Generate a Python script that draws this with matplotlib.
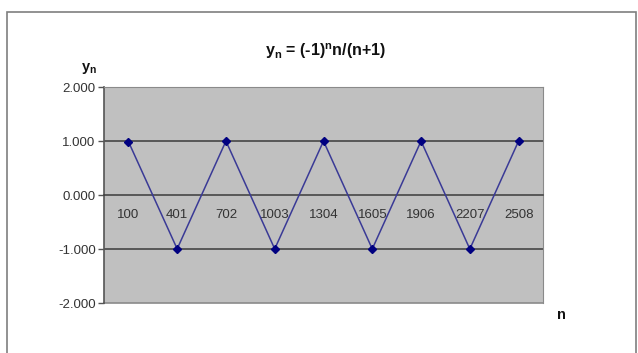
import matplotlib
matplotlib.use("Agg")
import matplotlib.pyplot as plt
from matplotlib.patches import Rectangle

categories = ["100", "401", "702", "1003", "1304", "1605", "1906", "2207", "2508"]
values = [0.990, -0.998, 0.999, -0.999, 0.999, -0.999, 0.999, -1.000, 1.000]
yticks = [-2.0, -1.0, 0.0, 1.0, 2.0]

plt.rcParams['font.family'] = ['Liberation Sans', 'DejaVu Sans']

W, H = 638, 353
fig = plt.figure(figsize=(W / 100, H / 100), dpi=100)
fig.patch.set_facecolor('white')

# outer chart frame
fig.add_artist(Rectangle((7 / W, -0.05), (636 - 7) / W, 1.05 - 12 / H,
                         transform=fig.transFigure, fill=False,
                         edgecolor='#7f7f7f', linewidth=1.2))

left, right, top, bottom = 104, 543, 87, 303
ax = fig.add_axes([left / W, 1 - bottom / H, (right - left) / W, (bottom - top) / H])
ax.set_facecolor('#c0c0c0')

x = list(range(len(categories)))
ax.plot(x, values, color='#3a3a96', linewidth=1.1, marker='D', markersize=4.5,
        markerfacecolor='#000080', markeredgecolor='#000080', zorder=3)

ax.set_xlim(-0.5, len(categories) - 0.5)
ax.set_ylim(-2, 2)
ax.set_yticks(yticks)
ax.set_yticklabels([f"{v:.3f}" for v in yticks], fontsize=9.5, color='#333333')
ax.tick_params(axis='y', length=4, width=1, color='#555555', pad=2)

for v in [-1.0, 1.0]:
    ax.axhline(v, color='#3c3c3c', linewidth=1.1, zorder=1)

ax.spines['bottom'].set_position(('data', 0))
ax.spines['bottom'].set_color('#3c3c3c')
ax.spines['bottom'].set_linewidth(1.1)
ax.set_xticks(x)
ax.set_xticklabels(categories, fontsize=9.5, color='#333333')
ax.tick_params(axis='x', length=0, pad=10)
ax.axhline(-2, color='#8a8a8a', linewidth=1.2, zorder=1, clip_on=False)

ax.spines['left'].set_color('#555555')
ax.spines['left'].set_linewidth(1.2)
ax.spines['top'].set_color('#8a8a8a')
ax.spines['right'].set_color('#8a8a8a')

fig.text(325 / W, 1 - 51 / H, r"y$_\mathregular{n}$ = (-1)$^\mathregular{n}$n/(n+1)",
         ha='center', va='center', fontsize=11.5, fontweight='bold', color='#111111')
fig.text(89 / W, 1 - 69 / H, r"y$_\mathregular{n}$", ha='center', va='center',
         fontsize=10.5, fontweight='bold', color='#111111')
fig.text(561 / W, 1 - 315 / H, "n", ha='center', va='center',
         fontsize=10.5, fontweight='bold', color='#111111')

fig.savefig("out.png", dpi=100)
